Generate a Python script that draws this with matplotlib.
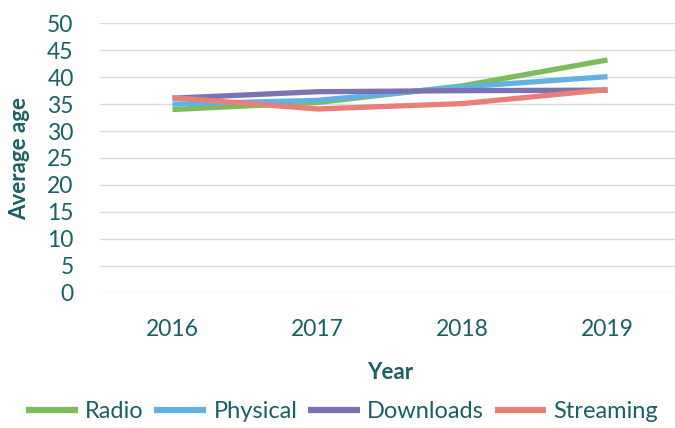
import matplotlib
matplotlib.use("Agg")
import matplotlib.pyplot as plt

years = ["2016", "2017", "2018", "2019"]
radio = [34.0, 35.3, 38.4, 43.2]
physical = [35.0, 35.7, 38.2, 40.1]
downloads = [36.1, 37.3, 37.5, 37.6]
streaming = [36.2, 34.1, 35.1, 37.7]
series_names = ["Radio", "Physical", "Downloads", "Streaming"]
colors = ["#7dbb5b", "#63b1e3", "#7b71b3", "#e8807a"]

plt.rcParams['font.family'] = ['Lato', 'DejaVu Sans']
teal = "#1b5f63"

fig = plt.figure(figsize=(6.75, 4.28), dpi=100)
ax = fig.add_axes([100/675, 1-292.7/428, 580/675, (292.7-23.3)/428])

xs = [i + 0.5 for i in range(len(years))]
for name, vals, c in zip(series_names, [radio, physical, downloads, streaming], colors):
    ax.plot(xs, vals, color=c, lw=3.8, label=name, solid_capstyle='butt')

ax.set_xlim(0, 4)
ax.set_ylim(0, 50)
ax.set_yticks(range(0, 51, 5))
ax.set_xticks(xs)
ax.set_xticklabels(years)
ax.grid(axis='y', color='#d5dfdf', lw=1)
ax.set_axisbelow(True)
for s in ax.spines.values():
    s.set_visible(False)
ax.tick_params(length=0, labelsize=16.5, colors=teal)
ax.tick_params(axis='y', pad=19)
ax.tick_params(axis='x', pad=19)
ax.set_xlabel("Year", fontsize=16, fontweight='bold', color=teal, labelpad=16)
ax.set_ylabel("Average age", fontsize=16, fontweight='bold', color=teal, labelpad=12)

leg = fig.legend(loc='center', bbox_to_anchor=(0.507, 1-412/428), ncol=4, frameon=False,
                 fontsize=17, handlelength=2.2, columnspacing=0.45, handletextpad=0.3)
for t in leg.get_texts():
    t.set_color(teal)
for l in leg.get_lines():
    l.set_linewidth(4.5)

fig.savefig("out.png", dpi=100)
